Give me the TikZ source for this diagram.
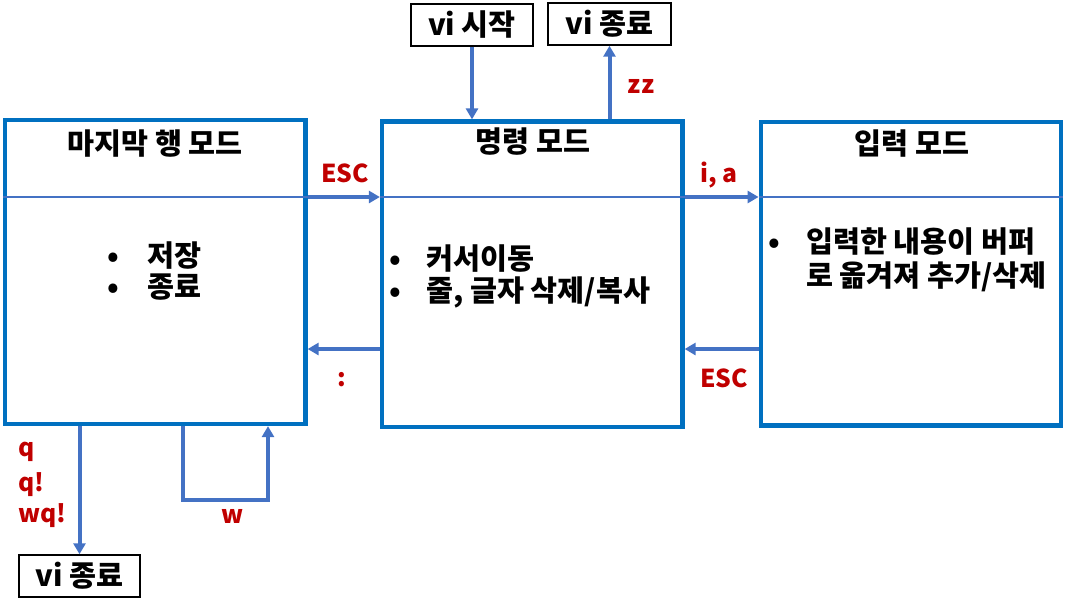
\documentclass[tikz,border=0pt]{standalone}
\usepackage{fontspec}
\setmainfont{Noto Sans CJK KR}
\usetikzlibrary{arrows.meta}
\newlength{\pxu}\setlength{\pxu}{0.75pt}
\definecolor{boxblue}{HTML}{0070C0}
\definecolor{arrblue}{HTML}{4472C4}
\definecolor{lblred}{HTML}{C00000}
\begin{document}
\begin{tikzpicture}[x=0.75pt,y=-0.75pt,
  font=\bfseries\fontsize{22}{26}\selectfont,
  modebox/.style={draw=boxblue, line width=3.2pt, inner sep=0pt},
  smallbox/.style={draw=black, line width=1.1pt, minimum width=122\pxu, minimum height=42\pxu, inner sep=0pt},
  arr/.style={draw=arrblue, line width=3pt, -{Triangle[length=8.25pt,width=9pt]}},
  thinline/.style={draw=arrblue, line width=0.8pt},
  lbl/.style={text=lblred, anchor=base, inner sep=0pt, font=\bfseries\fontsize{18.5}{22}\selectfont},
  txt/.style={anchor=base west, inner sep=0pt},
  ttl/.style={anchor=base, inner sep=0pt}]
\useasboundingbox (0,0) rectangle (1067,608);

% mode boxes
\node[modebox, minimum width=300.5\pxu, minimum height=304\pxu] (L) at (155.25,272) {};
\node[modebox, minimum width=300.5\pxu, minimum height=305.5\pxu] (M) at (532.25,274.25) {};
\node[modebox, minimum width=300.3\pxu, minimum height=303.5\pxu] (R) at (910.85,273.75) {};

\coordinate (ya) at (0,197);
\coordinate (yb) at (0,349);
\draw[thinline] (L.west |- ya) -- (L.east |- ya);
\draw[thinline] (M.west |- ya) -- (M.east |- ya);
\draw[thinline] (R.west |- ya) -- (R.east |- ya);

% titles
\node[ttl] (Lt) at (155,154) {마지막 행 모드};
\node[ttl] (Mt) at (533,152) {명령 모드};
\node[ttl] (Rt) at (912,154) {입력 모드};

% bullets
\node[txt] (Lb1) at (107,266) {•};
\node[txt] (L1) at (147,266) {저장};
\node[txt] (Lb2) at (107,297) {•};
\node[txt] (L2) at (147,297) {종료};

\node[txt] (Mb1) at (389,269) {•};
\node[txt] (M1) at (426,269) {커서이동};
\node[txt] (Mb2) at (389,301) {•};
\node[txt] (M2) at (426,301) {줄, 글자 삭제/복사};

\node[txt] (Rb1) at (768,252) {•};
\node[txt] (R1) at (806,252) {입력한 내용이 버퍼};
\node[txt] (R2) at (806,286) {로 옮겨져 추가/삭제};

% small boxes
\node[smallbox] (vs) at (472,25) {vi 시작};
\node[smallbox, minimum width=123\pxu] (ve) at (609.5,24) {vi 종료};
\node[smallbox, minimum width=121\pxu] (ve2) at (79.5,576) {vi 종료};

% arrows
\draw[arr] (L.east |- ya) -- (M.west |- ya);
\draw[arr] (M.east |- ya) -- (R.west |- ya);
\draw[arr] (M.west |- yb) -- (L.east |- yb);
\draw[arr] (R.west |- yb) -- (M.east |- yb);
\draw[arr] (vs.south) -- (vs.south |- M.north);
\draw[arr] (M.north -| ve.south) -- (ve.south);
\draw[arr] (L.south -| ve2.north) -- (ve2.north);
\coordinate (wa) at (183,500);
\coordinate (wb) at (268,500);
\draw[arr] (L.south -| wa) -- (wa) -- (wb) -- (L.south -| wb);

% labels
\node[lbl] (l1) at (345,182) {ESC};
\node[lbl] (l2) at (719,182) {i, a};
\node[lbl] (l3) at (342,386) {:};
\node[lbl] (l4) at (724,387) {ESC};
\node[lbl] (l5) at (641,93) {zz};
\node[lbl] (l6) at (233,523) {w};
\node[lbl, anchor=base west] (l7) at (18,456) {q};
\node[lbl, anchor=base west] (l8) at (18,491) {q!};
\node[lbl, anchor=base west] (l9) at (18,522) {wq!};
\end{tikzpicture}
\end{document}
